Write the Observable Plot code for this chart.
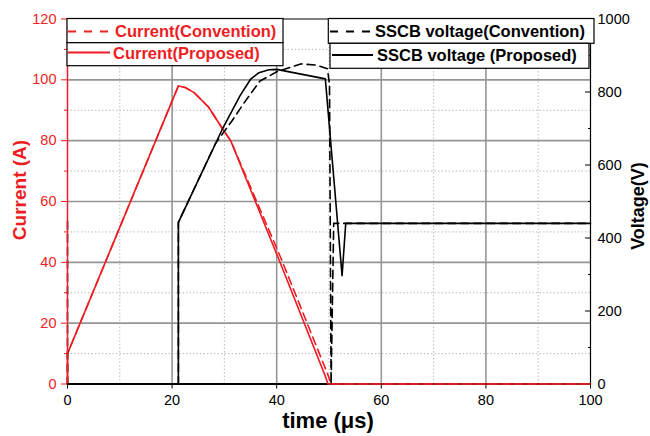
<!DOCTYPE html>
<html>
<head>
<meta charset="utf-8">
<script src="https://cdn.jsdelivr.net/npm/d3@7"></script>
<script src="https://cdn.jsdelivr.net/npm/@observablehq/plot@0.6"></script>
<style>
  body { margin: 0; background: #fff; }
  #chart { position: relative; width: 650px; height: 436px; }
</style>
</head>
<body>
<div id="chart"></div>
<script>
// ---- data ----
const xTicks = [0, 20, 40, 60, 80, 100];
const xMinor = [10, 30, 50, 70, 90];
const currentTicks = [0, 20, 40, 60, 80, 100, 120];
const currentMinor = [10, 30, 50, 70, 90, 110];
const voltageTicks = [0, 200, 400, 600, 800, 1000];
const voltageMinor = [100, 300, 500, 700, 900];

// Current (A), proposed
const curPropT = [0, 0, 21.2, 22.5, 24.2, 27, 29.6, 31.2, 40.4, 49.2, 49.8, 100];
const curPropA = [0, 10, 98, 97.5, 95.8, 91, 84, 80, 41, 3, 0, 0];
// Current (A), convention
const curConvT = [0, 0, 21.2, 22.5, 24.2, 27, 29.6, 31.2, 40.9, 49.8, 50.4, 100];
const curConvA = [0, 10, 98, 97.5, 95.8, 91, 84, 80, 41, 3, 0, 0];
// SSCB voltage (V), proposed
const vPropT = [0, 21.2, 21.2, 29.6, 33, 35, 36.6, 38.5, 40, 49.3, 52.5, 53.2, 100];
const vPropV = [0, 0, 443, 698, 790, 835, 853, 861, 862, 836, 297, 440, 440];
// SSCB voltage (V), convention
const vConvT = [0, 0, 21.2, 21.2, 28.3, 31.5, 34, 36.8, 40.1, 44.6, 47.5, 49.7, 50.1, 50.4, 50.9, 100];
const vConvV = [446, 0, 0, 443, 659, 722, 775, 830, 856, 877, 874, 864, 820, 0, 440, 440];

const legendCurrent = ["Current(Convention)", "Current(Proposed)"];
const legendVoltage = ["SSCB voltage(Convention)", "SSCB voltage (Proposed)"];

// ---- build ----
const RED = "#ee1d23";
const vk = 120 / 1000; // voltage -> current-axis units
const zip = (t, v) => t.map((x, i) => ({t: x, v: v[i]}));
const curProp = zip(curPropT, curPropA);
const curConv = zip(curConvT, curConvA);
const vProp = zip(vPropT, vPropV);
const vConv = zip(vConvT, vConvV);

const font = "'Liberation Sans', Arial, Helvetica, sans-serif";

const plot = Plot.plot({
  width: 650,
  height: 436,
  marginLeft: 67,
  marginRight: 60,
  marginTop: 18.5,
  marginBottom: 52.5,
  x: {domain: [0, 100]},
  y: {domain: [0, 120]},
  style: {fontFamily: font, fontSize: "14.5px", background: "#fff"},
  marks: [
    // grid
    Plot.ruleX(xMinor, {stroke: "#bdbdbd", strokeDasharray: "1.5,2"}),
    Plot.ruleY(currentMinor, {stroke: "#bdbdbd", strokeDasharray: "1.5,2"}),
    Plot.ruleX(xTicks.filter(d => d > 0 && d < 100), {stroke: "#959595", strokeWidth: 1.6}),
    Plot.ruleY(currentTicks.filter(d => d > 0 && d < 120), {stroke: "#959595", strokeWidth: 1.6}),
    // frame
    Plot.ruleY([120], {stroke: "#000", strokeWidth: 1}),
    Plot.ruleX([100], {stroke: "#000", strokeWidth: 1.2}),
    Plot.ruleY([0], {stroke: "#000", strokeWidth: 2}),
    // axes
    Plot.axisX({ticks: xTicks, tickSize: 5, tickPadding: 6, label: null, tickFormat: d => String(d)}),
    Plot.axisY({anchor: "left", ticks: currentTicks, tickSize: 6, tickPadding: 5, color: RED, label: null, tickFormat: d => String(d)}),
    Plot.axisY({anchor: "left", ticks: currentMinor, tickSize: 3, color: RED, label: null, tickFormat: () => ""}),
    Plot.axisY({anchor: "right", ticks: voltageTicks.map(v => v * vk), tickSize: 0, tickPadding: 7, label: null, tickFormat: d => String(Math.round(d / vk))}),
    Plot.axisY({anchor: "right", ticks: voltageTicks.map(v => v * vk), tickSize: 6, insetRight: 6, label: null, tickFormat: () => ""}),
    Plot.axisY({anchor: "right", ticks: voltageMinor.map(v => v * vk), tickSize: 3, insetRight: 3, label: null, tickFormat: () => ""}),
    // data lines
    Plot.line(curConv, {x: "t", y: "v", stroke: RED, strokeWidth: 1.6, strokeDasharray: "8,5"}),
    Plot.line(curProp, {x: "t", y: "v", stroke: RED, strokeWidth: 1.6}),
    Plot.line(vConv, {x: "t", y: d => d.v * vk, stroke: "#000", strokeWidth: 1.6, strokeDasharray: "8,5"}),
    Plot.line(vProp, {x: "t", y: d => d.v * vk, stroke: "#000", strokeWidth: 1.6}),
    Plot.ruleX([0], {stroke: RED, strokeWidth: 1.5})
  ]
});

document.getElementById("chart").appendChild(plot);

const svg = d3.select(plot);

// axis titles
svg.append("text")
  .attr("transform", "translate(26,190) rotate(-90)")
  .attr("text-anchor", "middle")
  .attr("font-family", font).attr("font-weight", "bold").attr("font-size", 19)
  .attr("fill", RED).text("Current (A)");
svg.append("text")
  .attr("transform", "translate(644,206) rotate(-90)")
  .attr("text-anchor", "middle")
  .attr("font-family", font).attr("font-weight", "bold").attr("font-size", 18)
  .attr("fill", "#000").text("Voltage(V)");
svg.append("text")
  .attr("x", 328).attr("y", 428)
  .attr("text-anchor", "middle")
  .attr("font-family", font).attr("font-weight", "bold").attr("font-size", 22)
  .attr("fill", "#000").text("time (\u03bcs)");

// legend boxes
const boxes = [
  {x0: 67, y0: 18.5, x1: 283, y1: 42.7, lx0: 68, lx1: 110, ly: 31.5, tx: 115, ty: 37, dash: "8,8", color: RED, label: legendCurrent[0]},
  {x0: 67, y0: 42.7, x1: 283, y1: 65.7, lx0: 68, lx1: 110, ly: 52.5, tx: 113, ty: 59, dash: null, color: RED, label: legendCurrent[1]},
  {x0: 328.3, y0: 18.5, x1: 594, y1: 43.3, lx0: 330, lx1: 373, ly: 31.5, tx: 375, ty: 37, dash: "8,8", color: "#000", label: legendVoltage[0]},
  {x0: 330, y0: 43.3, x1: 589, y1: 68.3, lx0: 332, lx1: 373, ly: 55, tx: 377, ty: 60.5, dash: null, color: "#000", label: legendVoltage[1]}
];
const lg = svg.append("g");
for (const b of boxes) {
  lg.append("rect").attr("x", b.x0).attr("y", b.y0).attr("width", b.x1 - b.x0).attr("height", b.y1 - b.y0)
    .attr("fill", "#fff").attr("stroke", "#000").attr("stroke-width", 1.2);
  lg.append("line").attr("x1", b.lx0).attr("x2", b.lx1).attr("y1", b.ly).attr("y2", b.ly)
    .attr("stroke", b.color).attr("stroke-width", 1.8).attr("stroke-dasharray", b.dash);
  lg.append("text").attr("x", b.tx).attr("y", b.ty)
    .attr("text-anchor", "start")
    .attr("font-family", font).attr("font-weight", "bold").attr("font-size", 16.5)
    .attr("fill", b.color).text(b.label);
}
</script>
</body>
</html>
